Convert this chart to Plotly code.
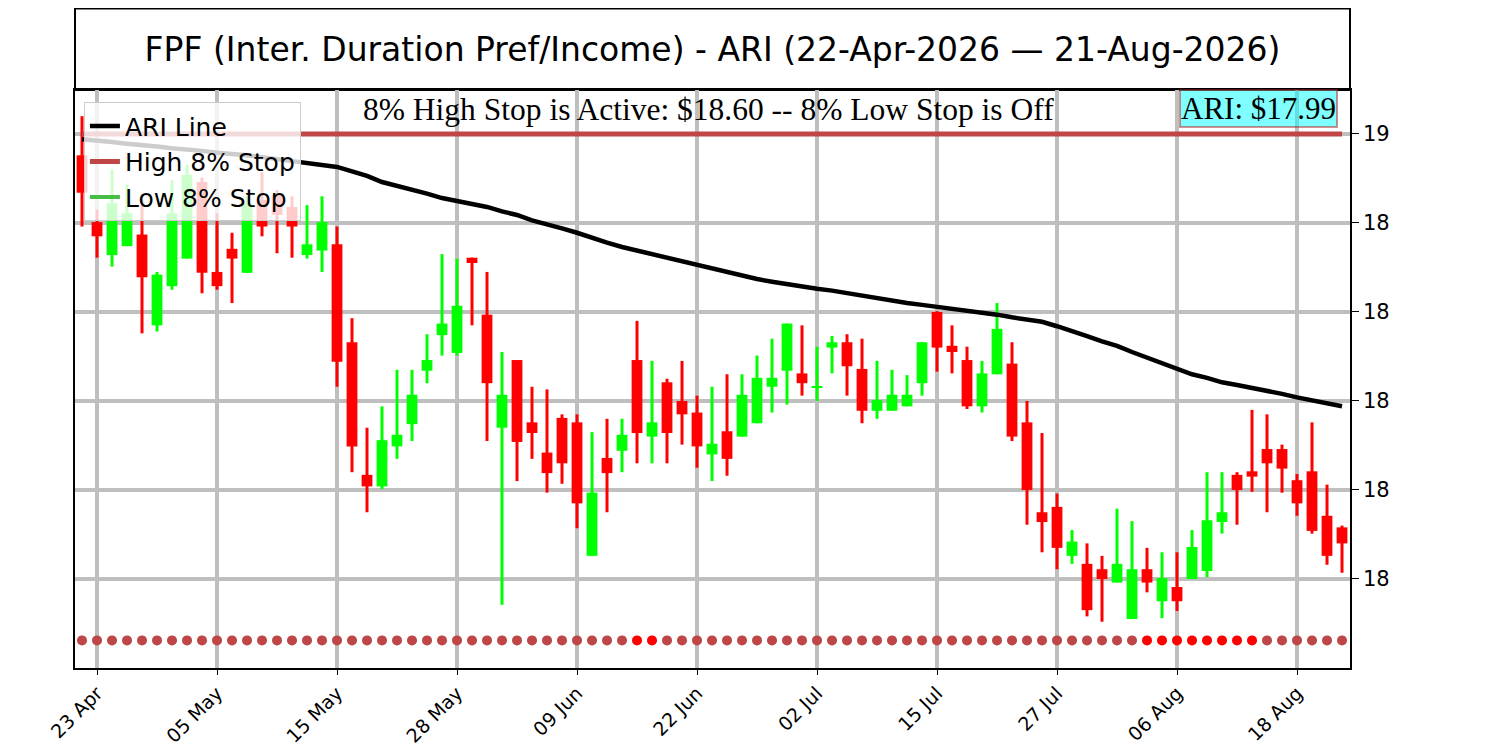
import pandas as pd
import plotly.graph_objects as go

# trading calendar (US market holidays removed)
holidays = ['2026-05-25', '2026-06-19', '2026-07-03']
dates = pd.bdate_range('2026-04-22', '2026-08-21', freq='C', holidays=holidays)
days = [d.strftime('%Y-%m-%d') for d in dates]

open_ = [18.576, 18.501, 18.464, 18.474, 18.487, 18.385, 18.429, 18.460, 18.546, 18.445,
         18.471, 18.444, 18.526, 18.531, 18.518, 18.464, 18.469, 18.476, 18.366, 18.217,
         18.204, 18.249, 18.274, 18.334, 18.374, 18.354, 18.461, 18.397, 18.270, 18.346,
         18.276, 18.242, 18.281, 18.276, 18.126, 18.236, 18.244, 18.346, 18.260, 18.321,
         18.300, 18.287, 18.240, 18.266, 18.260, 18.275, 18.316, 18.334, 18.331, 18.315,
         18.360, 18.366, 18.336, 18.289, 18.289, 18.294, 18.320, 18.400, 18.362, 18.346,
         18.294, 18.330, 18.342, 18.276, 18.175, 18.181, 18.126, 18.117, 18.111, 18.096,
         18.055, 18.111, 18.075, 18.091, 18.100, 18.109, 18.164, 18.217, 18.221, 18.246,
         18.246, 18.211, 18.221, 18.171, 18.158]
high = [18.620, 18.515, 18.560, 18.543, 18.526, 18.445, 18.548, 18.565, 18.551, 18.511,
        18.489, 18.530, 18.557, 18.537, 18.530, 18.520, 18.530, 18.496, 18.393, 18.270,
        18.294, 18.335, 18.335, 18.375, 18.465, 18.460, 18.461, 18.445, 18.355, 18.346,
        18.316, 18.313, 18.285, 18.285, 18.265, 18.280, 18.280, 18.390, 18.345, 18.325,
        18.345, 18.306, 18.316, 18.330, 18.330, 18.351, 18.370, 18.387, 18.385, 18.361,
        18.373, 18.375, 18.370, 18.345, 18.335, 18.329, 18.366, 18.401, 18.385, 18.361,
        18.345, 18.410, 18.366, 18.300, 18.264, 18.196, 18.155, 18.140, 18.126, 18.179,
        18.165, 18.135, 18.130, 18.130, 18.155, 18.220, 18.220, 18.220, 18.290, 18.285,
        18.251, 18.218, 18.276, 18.206, 18.160]
low = [18.496, 18.461, 18.451, 18.474, 18.376, 18.378, 18.425, 18.460, 18.421, 18.425,
       18.410, 18.444, 18.485, 18.466, 18.461, 18.460, 18.445, 18.316, 18.220, 18.175,
       18.201, 18.235, 18.255, 18.320, 18.351, 18.351, 18.385, 18.255, 18.071, 18.210,
       18.235, 18.197, 18.207, 18.157, 18.126, 18.175, 18.220, 18.230, 18.230, 18.230,
       18.251, 18.225, 18.210, 18.216, 18.260, 18.275, 18.287, 18.296, 18.306, 18.300,
       18.331, 18.306, 18.275, 18.280, 18.289, 18.294, 18.306, 18.333, 18.331, 18.291,
       18.287, 18.330, 18.255, 18.161, 18.130, 18.111, 18.117, 18.058, 18.052, 18.096,
       18.055, 18.085, 18.056, 18.064, 18.100, 18.102, 18.151, 18.161, 18.198, 18.175,
       18.197, 18.171, 18.151, 18.116, 18.107]
close = [18.534, 18.485, 18.522, 18.511, 18.439, 18.442, 18.511, 18.554, 18.444, 18.429,
         18.460, 18.522, 18.496, 18.509, 18.496, 18.476, 18.501, 18.344, 18.249, 18.204,
         18.256, 18.262, 18.307, 18.346, 18.387, 18.407, 18.455, 18.320, 18.307, 18.254,
         18.264, 18.219, 18.230, 18.185, 18.197, 18.219, 18.262, 18.264, 18.276, 18.264,
         18.285, 18.249, 18.252, 18.235, 18.307, 18.326, 18.326, 18.387, 18.320, 18.316,
         18.366, 18.339, 18.289, 18.301, 18.307, 18.307, 18.366, 18.360, 18.355, 18.294,
         18.331, 18.381, 18.260, 18.200, 18.164, 18.135, 18.142, 18.065, 18.100, 18.117,
         18.111, 18.096, 18.101, 18.075, 18.136, 18.166, 18.175, 18.200, 18.215, 18.230,
         18.224, 18.185, 18.154, 18.126, 18.140]
ari_line = [18.594, 18.593, 18.591, 18.589, 18.588, 18.586, 18.584, 18.583, 18.581, 18.579,
            18.578, 18.576, 18.574, 18.572, 18.570, 18.568, 18.566, 18.563, 18.558, 18.553,
            18.546, 18.542, 18.537, 18.533, 18.528, 18.525, 18.521, 18.518, 18.513, 18.509,
            18.503, 18.499, 18.494, 18.489, 18.483, 18.478, 18.473, 18.469, 18.464, 18.461,
            18.456, 18.453, 18.449, 18.445, 18.440, 18.437, 18.434, 18.431, 18.429, 18.426,
            18.424, 18.421, 18.419, 18.416, 18.412, 18.410, 18.408, 18.406, 18.403, 18.401,
            18.399, 18.397, 18.394, 18.392, 18.389, 18.384, 18.379, 18.373, 18.367, 18.362,
            18.355, 18.349, 18.343, 18.336, 18.330, 18.326, 18.321, 18.318, 18.315, 18.311,
            18.308, 18.304, 18.301, 18.298, 18.294]
# 1 = signal day (bright red dot)
signal_flags = [0] * 37 + [1, 1] + [0] * 32 + [1] * 8 + [0] * 6

high_stop = 18.60
signal_level = 18.031
ari_price = 17.99
y_ticks = [18.1, 18.2, 18.3, 18.4, 18.5, 18.6]

GREEN = '#00ff00'
RED = '#ff0000'
STOP_RED = '#be4646'
STOP_GREEN = '#46be46'
FONT = 'DejaVu Sans'

candle_colors = [GREEN if c >= o else RED for o, c in zip(open_, close)]
body_base = [min(o, c) for o, c in zip(open_, close)]
body_h = [abs(c - o) for o, c in zip(open_, close)]
wick_h = [h - l for h, l in zip(high, low)]
tick_days = days[1::8]
tick_text = [dates[i].strftime('%d %b') for i in range(1, len(days), 8)]

fig = go.Figure()

fig.add_trace(go.Bar(x=days, y=wick_h, base=low, width=0.2,
                     marker=dict(color=candle_colors, line=dict(width=0)),
                     showlegend=False, hoverinfo='skip'))
fig.add_trace(go.Bar(x=days, y=body_h, base=body_base, width=0.72,
                     marker=dict(color=candle_colors, line=dict(width=0)),
                     showlegend=False, hoverinfo='skip'))

fig.add_trace(go.Scatter(
    x=days, y=[signal_level] * len(days), mode='markers',
    marker=dict(size=10, color=[RED if f else STOP_RED for f in signal_flags]),
    showlegend=False, hoverinfo='skip'))

fig.add_trace(go.Scatter(x=days, y=ari_line, mode='lines', name='ARI Line',
                         line=dict(color='black', width=4.5)))
fig.add_trace(go.Scatter(x=[days[0], days[-1]], y=[high_stop, high_stop], mode='lines',
                         name='High 8% Stop', line=dict(color=STOP_RED, width=5)))
# low stop is off -> legend entry only
fig.add_trace(go.Scatter(x=[None], y=[None], mode='lines', name='Low 8% Stop',
                         line=dict(color=STOP_GREEN, width=4)))

# title box above the plot
fig.add_shape(type='rect', xref='paper', yref='paper', x0=0, x1=1, y0=1, y1=1.141,
              line=dict(color='black', width=2), fillcolor='white', layer='below')

fig.add_annotation(text=f'8% High Stop is Active: ${high_stop:.2f} -- 8% Low Stop is Off',
                   xref='paper', yref='paper', x=0.4969, y=0.966, xanchor='center', yanchor='middle',
                   showarrow=False, font=dict(family='Liberation Serif', size=31.5, color='black'))
fig.add_annotation(text=f'ARI: ${ari_price:.2f}',
                   xref='paper', yref='paper', x=0.9905, y=0.9685, xanchor='right', yanchor='middle',
                   showarrow=False, font=dict(family='Liberation Serif', size=31, color='black'),
                   bgcolor='rgba(0,255,255,0.5)', bordercolor='rgba(178,34,34,0.5)',
                   borderwidth=2, borderpad=0)

# page body has an 8px margin, so the figure is drawn 8px smaller and offset
fig.update_layout(
    width=1492, height=742,
    margin=dict(l=67, r=150, t=82, b=82),
    paper_bgcolor='white', plot_bgcolor='white',
    barmode='overlay',
    title=dict(text='FPF (Inter. Duration Pref/Income) - ARI (22-Apr-2026 \u2014 21-Aug-2026)',
               x=0.4722, xanchor='center', y=0.9447, yanchor='middle',
               font=dict(family=FONT, size=33, color='black')),
    font=dict(family=FONT, color='black'),
    legend=dict(x=0.007, y=0.979, xanchor='left', yanchor='top',
                bgcolor='rgba(255,255,255,0.8)', bordercolor='#cccccc', borderwidth=1,
                font=dict(family=FONT, size=25, color='black'), itemwidth=30,
                tracegroupgap=0),
    xaxis=dict(type='category', range=[-0.467, len(days) - 0.467], automargin=False,
               tickmode='array', tickvals=tick_days, ticktext=tick_text, tickangle=-45,
               tickfont=dict(size=19), ticks='outside', ticklen=5, tickcolor='black',
               showgrid=True, gridcolor='#bfbfbf', gridwidth=4,
               showline=True, linecolor='black', linewidth=1.5, mirror=True, zeroline=False),
    yaxis=dict(side='right', range=[18.0, 18.6494], automargin=False,
               tickmode='array', tickvals=y_ticks, ticktext=[f'{v:.0f}' for v in y_ticks],
               tickfont=dict(size=21), ticks='outside', ticklen=7, tickcolor='black',
               showgrid=True, gridcolor='#bfbfbf', gridwidth=4,
               showline=True, linecolor='black', linewidth=1.5, mirror=True, zeroline=False),
)

fig.write_html('out.html')
